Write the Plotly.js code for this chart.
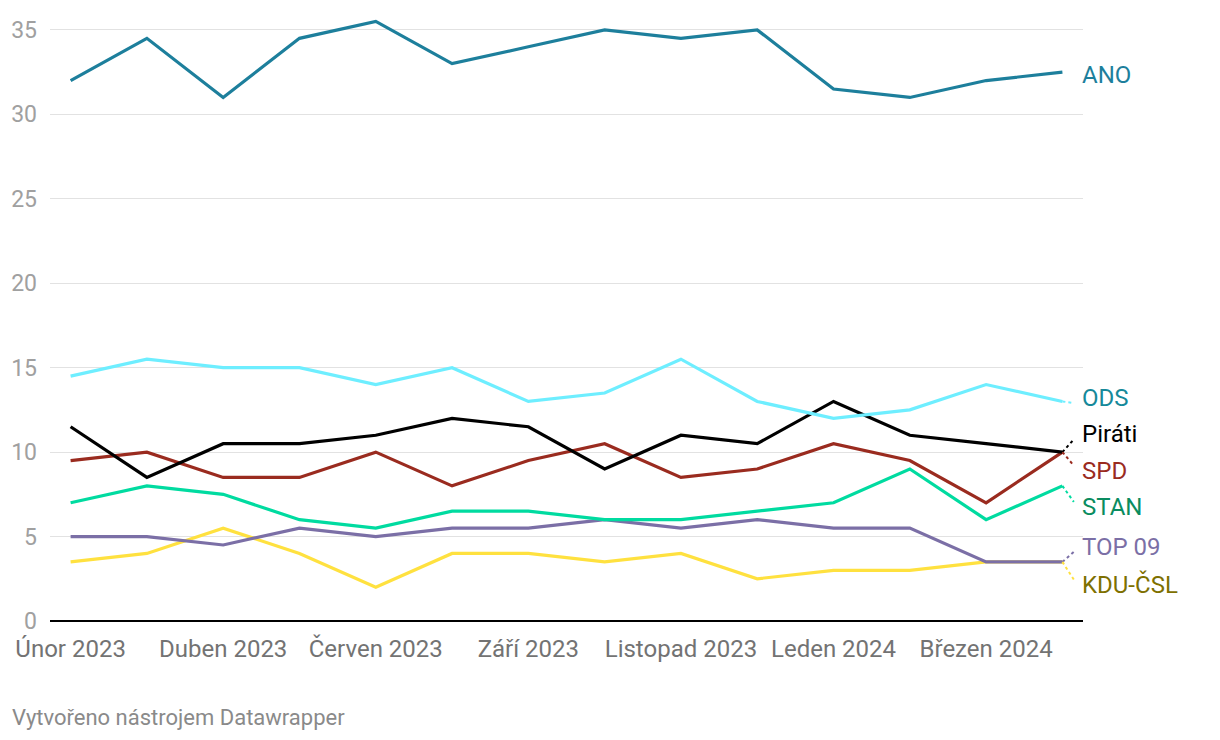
<!DOCTYPE html>
<html>
<head>
<meta charset="utf-8">
<script src="https://cdn.plot.ly/plotly-3.0.1.min.js"></script>
<style>
html,body{margin:0;padding:0;background:#fff;}
#chart{width:1220px;height:740px;}
</style>
</head>
<body>
<div id="chart"></div>
<script>
const categories = ["Únor 2023","Březen 2023","Duben 2023","Květen 2023","Červen 2023","Červenec 2023","Září 2023","Říjen 2023","Listopad 2023","Prosinec 2023","Leden 2024","Únor 2024","Březen 2024","Duben 2024"];
const tickLabels = ["Únor 2023","Duben 2023","Červen 2023","Září 2023","Listopad 2023","Leden 2024","Březen 2024"];

const parties = ["ANO","ODS","Piráti","SPD","STAN","TOP 09","KDU-ČSL"];
const ANO    = [32, 34.5, 31, 34.5, 35.5, 33, 34, 35, 34.5, 35, 31.5, 31, 32, 32.5];
const ODS    = [14.5, 15.5, 15, 15, 14, 15, 13, 13.5, 15.5, 13, 12, 12.5, 14, 13];
const Pirati = [11.5, 8.5, 10.5, 10.5, 11, 12, 11.5, 9, 11, 10.5, 13, 11, 10.5, 10];
const SPD    = [9.5, 10, 8.5, 8.5, 10, 8, 9.5, 10.5, 8.5, 9, 10.5, 9.5, 7, 10];
const STAN   = [7, 8, 7.5, 6, 5.5, 6.5, 6.5, 6, 6, 6.5, 7, 9, 6, 8];
const TOP09  = [5, 5, 4.5, 5.5, 5, 5.5, 5.5, 6, 5.5, 6, 5.5, 5.5, 3.5, 3.5];
const KDU    = [3.5, 4, 5.5, 4, 2, 4, 4, 3.5, 4, 2.5, 3, 3, 3.5, 3.5];

const seriesValues = [ANO, ODS, Pirati, SPD, STAN, TOP09, KDU];
const lineColors  = ["#1d7f9c", "#6eeeff", "#000000", "#9a2b1f", "#00dba0", "#7b6fa6", "#ffe13f"];
const labelColors = ["#1d7f9c", "#16899a", "#000000", "#9a2b1f", "#0a8c60", "#7b6fa6", "#7e7000"];
// vertical positions of the end labels (in value units, spread to avoid overlap)
const labelPos = [32.3, 13.2, 11.05, 8.9, 6.75, 4.4, 2.15];

const n = categories.length;
const xIdx = categories.map((_, i) => i);

// draw from bottom of the list to top so earlier parties sit above later ones
const traces = seriesValues.map((vals, k) => ({
  x: xIdx, y: vals, type: 'scatter', mode: 'lines', name: parties[k],
  line: {color: lineColors[k], width: 3.2}, hoverinfo: 'skip'
})).reverse();

const annotations = parties.map((p, k) => ({
  x: n - 1, y: labelPos[k], xref: 'x', yref: 'y', text: p, showarrow: false,
  xanchor: 'left', yanchor: 'middle', xshift: 18,
  font: {family: 'Roboto', size: 24, color: labelColors[k]}
}));
annotations.push({
  xref: 'paper', yref: 'paper', x: 0, y: 0, xanchor: 'left', yanchor: 'middle',
  xshift: -40, yshift: -96, showarrow: false, text: 'Vytvořeno nástrojem Datawrapper',
  font: {family: 'Roboto', size: 22, color: '#8a8a8a'}
});

const shapes = parties.slice(1).map((p, j) => {
  const k = j + 1;
  return {
    type: 'line', xref: 'x', yref: 'y',
    x0: n - 1, y0: seriesValues[k][n - 1], x1: n - 1 + 0.15, y1: labelPos[k] + (labelPos[k] > seriesValues[k][n-1] ? -0.3 : 0.3),
    line: {color: lineColors[k], width: 2, dash: 'dot'}
  };
});

const tickVals = tickLabels.map(t => categories.indexOf(t));

const layout = {
  width: 1220, height: 740,
  margin: {l: 50, r: 137, t: 13, b: 119},
  paper_bgcolor: '#fff', plot_bgcolor: '#fff',
  showlegend: false,
  font: {family: 'Roboto', size: 24},
  xaxis: {
    range: [-0.27, n - 1 + 0.27], showgrid: false, zeroline: false, showline: false,
    tickmode: 'array', tickvals: tickVals, ticktext: tickLabels,
    ticks: '', ticklabelstandoff: 11,
    tickfont: {family: 'Roboto', size: 24, color: '#737373'}
  },
  yaxis: {
    range: [0, 36], tickmode: 'array', tickvals: [0,5,10,15,20,25,30,35],
    showgrid: true, gridcolor: '#e2e2e2', gridwidth: 1,
    zeroline: true, zerolinecolor: '#000', zerolinewidth: 2,
    showline: false, ticks: '', ticklabelstandoff: 12,
    tickfont: {family: 'Roboto', size: 23, color: '#a0a0a0'}
  },
  annotations: annotations,
  shapes: shapes
};

Plotly.newPlot('chart', traces, layout, {displayModeBar: false, staticPlot: true});
</script>
</body>
</html>
